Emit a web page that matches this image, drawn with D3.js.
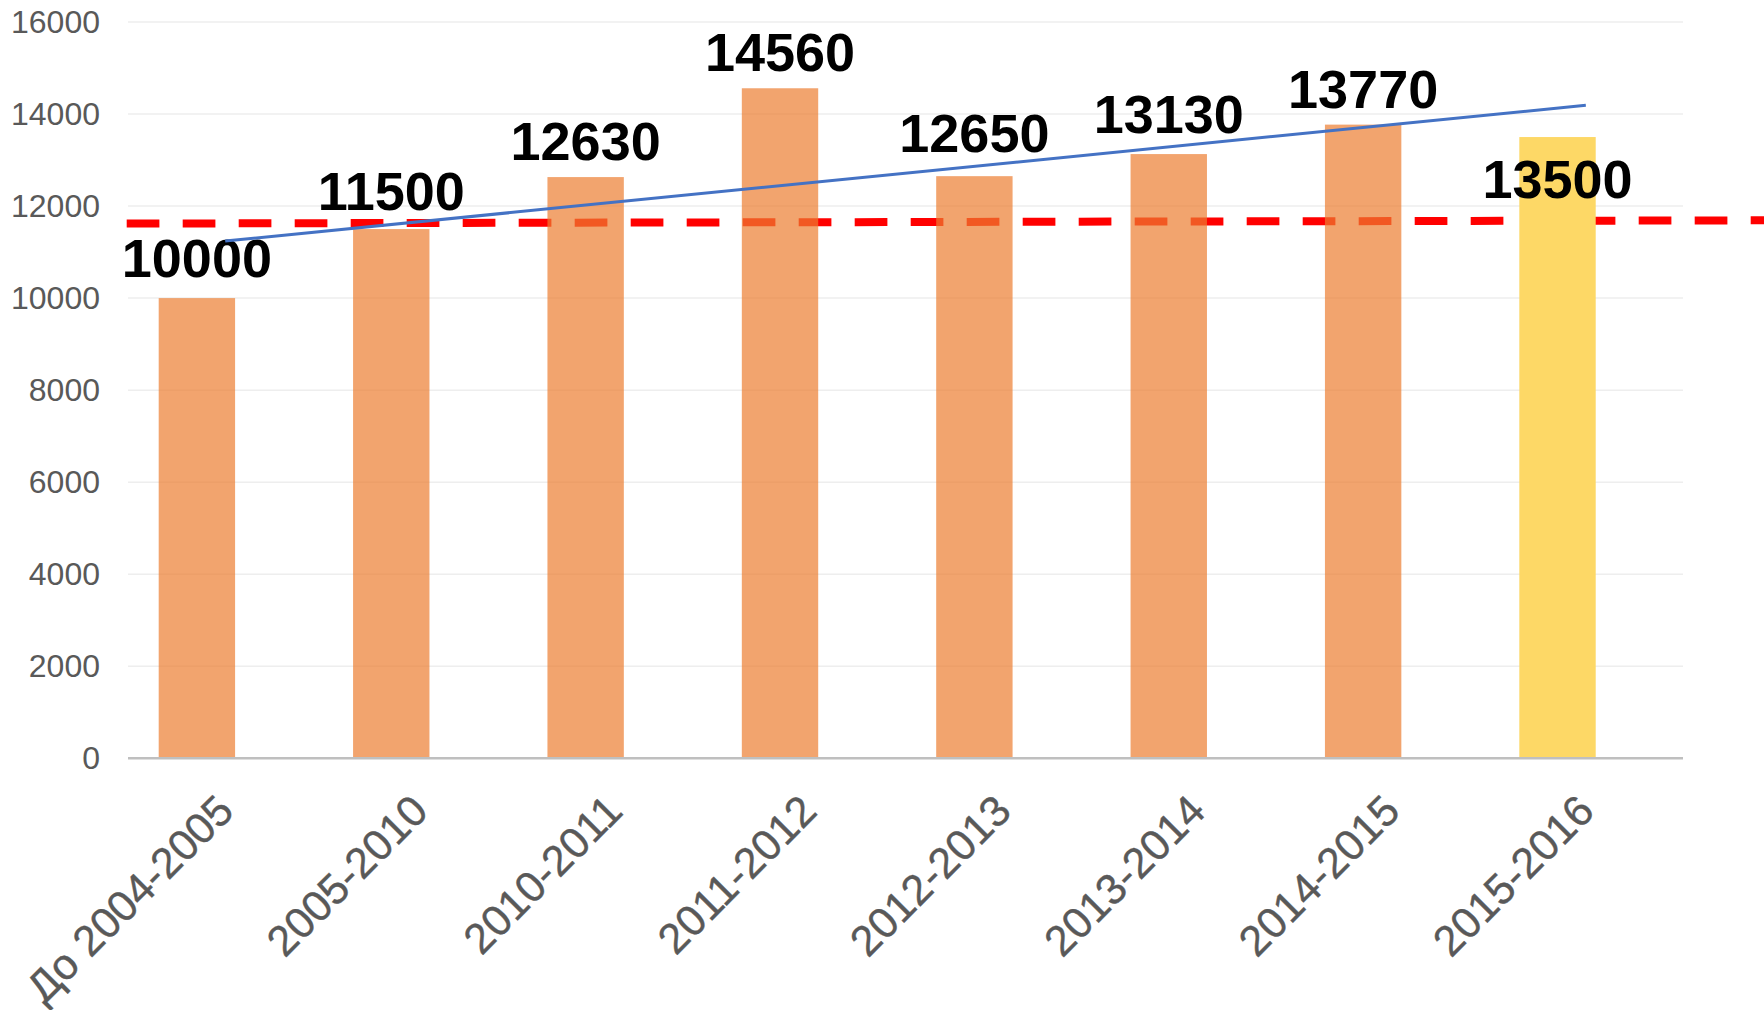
<!DOCTYPE html>
<html>
<head>
<meta charset="utf-8">
<script src="https://cdn.jsdelivr.net/npm/d3@7"></script>
<style>
  html, body { margin: 0; padding: 0; background: #ffffff; }
  svg { display: block; }
</style>
</head>
<body>
<svg id="chart" width="1764" height="1010"></svg>
<script>
// ---- data ----
const categories = ["До 2004-2005", "2005-2010", "2010-2011", "2011-2012", "2012-2013", "2013-2014", "2014-2015", "2015-2016"];
const values = [10000, 11500, 12630, 14560, 12650, 13130, 13770, 13500];
const yTicks = [0, 2000, 4000, 6000, 8000, 10000, 12000, 14000, 16000];
const trendValues = [11240, 14190];      // linear trend line, first and last category
const refLineValues = [11620, 11690];    // red dashed reference line, left and right end

// ---- layout ----
const W = 1764, H = 1010;
const plotLeft = 128, plotRight = 1683, plotTop = 22, plotBottom = 758.3;
const barShift = -28.3;
const labelDy = [-21, -19, -17, -17, -24, -21, -17, 61];

const svg = d3.select("#chart");

const y = d3.scaleLinear().domain([0, 16000]).range([plotBottom, plotTop]);
// axis (gridline) band scale
const xAxisBand = d3.scaleBand().domain(categories).range([plotLeft, plotRight]);
// bar band scale
const xBar = d3.scaleBand().domain(categories)
  .range([plotLeft + barShift, plotRight + barShift])
  .paddingInner(0.607).paddingOuter(0.3035);

// gridlines
svg.append("g").selectAll("line").data(yTicks.filter(d => d > 0)).join("line")
  .attr("x1", plotLeft).attr("x2", plotRight)
  .attr("y1", d => y(d)).attr("y2", d => y(d))
  .attr("stroke", "#eeeeee").attr("stroke-width", 1.5);

// y axis labels
const yAxis = svg.append("g").attr("transform", `translate(${plotLeft},0)`)
  .call(d3.axisLeft(y).tickValues(yTicks).tickSize(0).tickPadding(28).tickFormat(d3.format("d")));
yAxis.select(".domain").remove();
yAxis.selectAll("text")
  .attr("font-family", "'Liberation Sans', Arial, sans-serif")
  .attr("font-size", 32).attr("fill", "#595959");

// red dashed reference line (drawn beneath bars)
const xRef = d3.scaleLinear().domain([0, 1]).range([plotLeft - 1.3, W]);
svg.append("line")
  .attr("x1", xRef(0)).attr("x2", xRef(1))
  .attr("y1", y(refLineValues[0])).attr("y2", y(refLineValues[1]))
  .attr("stroke", "#FF0000").attr("stroke-width", 8)
  .attr("stroke-dasharray", "32.7 23.3");

// bars
svg.append("g").selectAll("rect").data(values).join("rect")
  .attr("x", (d, i) => xBar(categories[i]))
  .attr("width", xBar.bandwidth())
  .attr("y", d => y(d))
  .attr("height", d => y(0) - y(d))
  .attr("fill", (d, i) => i === values.length - 1 ? "#FDD866" : "#ED7D31")
  .attr("fill-opacity", (d, i) => i === values.length - 1 ? 1 : 0.7);

// x axis line
svg.append("line")
  .attr("x1", plotLeft).attr("x2", plotRight)
  .attr("y1", y(0)).attr("y2", y(0))
  .attr("stroke", "#BFBFBF").attr("stroke-width", 2.5);

// x axis labels
const xAxis = svg.append("g").attr("transform", `translate(0,${y(0)})`)
  .call(d3.axisBottom(xBar).tickSize(0));
xAxis.select(".domain").remove();
xAxis.selectAll("text")
  .attr("font-family", "'Liberation Sans', Arial, sans-serif")
  .attr("font-size", 43).attr("fill", "#595959")
  .attr("stroke", "#595959").attr("stroke-width", 0.4)
  .attr("text-anchor", "end")
  .attr("dy", 0).attr("y", 0)
  .attr("transform", "translate(39,55) rotate(-45)");

// value labels
svg.append("g").selectAll("text").data(values).join("text")
  .attr("x", (d, i) => xBar(categories[i]) + xBar.bandwidth() / 2)
  .attr("y", (d, i) => y(d) + labelDy[i])
  .attr("text-anchor", "middle")
  .attr("font-family", "'Liberation Sans', Arial, sans-serif")
  .attr("font-weight", "bold").attr("font-size", 54).attr("fill", "#000000")
  .text(d => d);

// trend line
const cx = c => xAxisBand(c) + xAxisBand.bandwidth() / 2;
svg.append("line")
  .attr("x1", cx(categories[0])).attr("x2", cx(categories[categories.length - 1]))
  .attr("y1", y(trendValues[0])).attr("y2", y(trendValues[1]))
  .attr("stroke", "#4472C4").attr("stroke-width", 3);
</script>
</body>
</html>
